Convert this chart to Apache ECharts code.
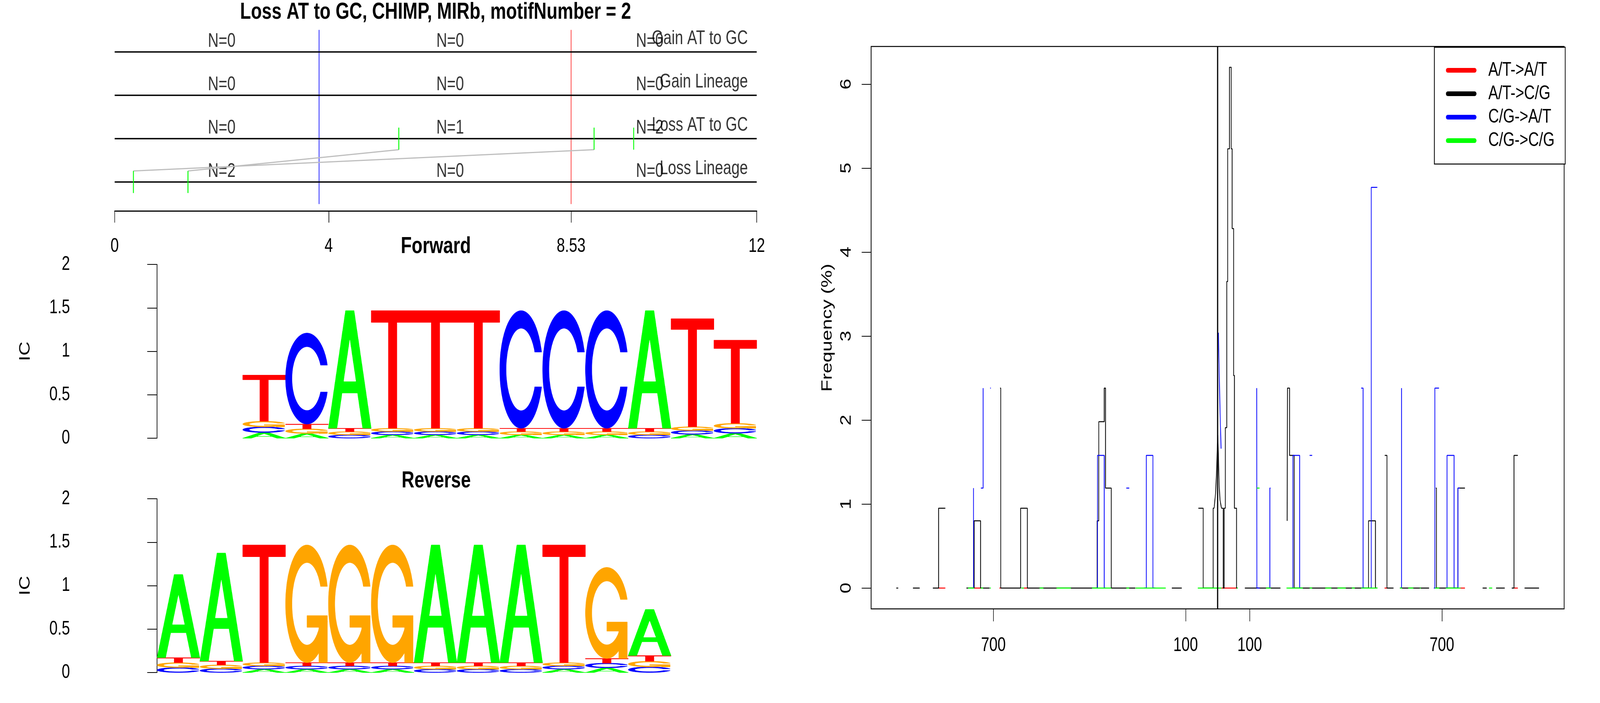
<!DOCTYPE html>
<html>
<head>
<meta charset="utf-8">
<script src="https://cdn.jsdelivr.net/npm/echarts@6/dist/echarts.min.js"></script>
<style>
  html, body { margin: 0; padding: 0; background: #fff; overflow: hidden; }
  #wrap { width: 5400px; height: 1800px; transform-origin: 0 0; }
  #main { width: 5400px; height: 1800px; }
</style>
</head>
<body>
<div id="wrap"><div id="main"></div></div>
<script>
// ---- lineage panel ----
var lineageRows = ['Gain AT to GC', 'Gain Lineage', 'Loss AT to GC', 'Loss Lineage'];
var lineageRowY = [4, 3, 2, 1];
var lineageCounts = [[0, 0, 0], [0, 0, 0], [0, 1, 2], [2, 0, 0]];
var countX = [2, 6.27, 10];
var lineageTicks = [0, 4, 8.53, 12];
var blueLineX = 3.82;
var redLineX = 8.53;
var lossAtToGcSites = [5.31, 8.96, 9.70];
var lossLineageSites = [0.35, 1.37];
var siteLinks = [[0.35, 8.96], [1.37, 5.31]];

// ---- sequence logos (main letter height, height of each minor letter) ----
var forwardLetters = ['T', 'C', 'A', 'T', 'T', 'T', 'C', 'C', 'C', 'A', 'T', 'T'];
var forwardMain = [0.531, 1.048, 1.354, 1.354, 1.354, 1.354, 1.354, 1.354, 1.354, 1.354, 1.243, 0.957];
var forwardMinor = [0.065, 0.054, 0.038, 0.038, 0.038, 0.038, 0.038, 0.038, 0.038, 0.038, 0.044, 0.057];
var reverseLetters = ['A', 'A', 'T', 'G', 'G', 'G', 'A', 'A', 'A', 'T', 'G', 'A'];
var reverseMain = [0.957, 1.243, 1.354, 1.354, 1.354, 1.354, 1.354, 1.354, 1.354, 1.354, 1.048, 0.531];
var reverseMinor = [0.057, 0.044, 0.038, 0.038, 0.038, 0.038, 0.038, 0.038, 0.038, 0.038, 0.054, 0.065];

// ---- frequency panel: step segments [position, frequency %] ----
var atToAt = [
  [[-871, 0], [-850, 0]],
  [[-760, 0], [-740, 0]],
  [[-681, 0], [-677, 0]],
  [[-605, 0], [-594, 0]],
  [[12, 0], [60, 0]],
  [[521, 0], [530, 0]],
  [[758, 0], [772, 0]],
  [[925, 0], [937, 0]]
];
var atToCg = [
  [[-1003, 0], [-997, 0]],
  [[-951, 0], [-930, 0]],
  [[-889, 0], [-871, 0.95], [-850, 0.95]],
  [[-784, 0], [-760, 0.8], [-740, 0], [-712, 0]],
  [[-679, 2.38], [-677, 0], [-615, 0.95], [-594, 0], [-376, 0.8], [-371, 1.98], [-354, 2.38], [-350, 1.19], [-332, 0], [-257, 0]],
  [[-143, 0], [-112, 0]],
  [[-60, 0.95], [-45, 0], [-14, 0.95], [-11, 0.95]],
  [[12, 0.95], [17.5, 0], [20.3, 0.95], [24, 1.91], [28.5, 3.65], [31.4, 5.23], [37, 6.2], [42.5, 5.23], [45.3, 4.28],
   [49.9, 2.53], [52.4, 0.95], [59, 0], [62, 0]],
  [[85, 0], [196, 0]],
  [[217, 0.8], [218, 2.38], [224.5, 1.58], [239, 0], [471, 0.8], [492.6, 0], [498.6, 0]],
  [[521.6, 1.58], [528.5, 0], [549, 0]],
  [[569, 0], [660, 0]],
  [[681, 1.19], [683, 0], [750, 1.19], [772, 1.19]],
  [[827, 0], [840, 0]],
  [[869, 0], [896, 0]],
  [[918, 0], [925, 1.58], [937, 1.58]],
  [[958, 0], [1003, 0]]
];
// fine-resolution stretch right at the centre
var atToCgCentre = [[-11, 0.95], [-6.4, 1.13], [-4.1, 1.32], [-1.8, 1.57], [0.5, 1.82], [2.8, 1.5], [5.1, 1.2], [7.4, 1.05], [12, 0.95]];
var cgToAt = [
  [[-765, 0], [-762, 1.19]],
  [[-739, 1.19], [-732, 2.38]],
  [[-710, 2.38], [-708, 2.38]],
  [[-378, 0], [-375, 1.58], [-354, 0], [-350, 0]],
  [[-285, 1.19], [-276, 1.19]],
  [[-230, 0], [-222.6, 1.58], [-202, 0], [-195, 0]],
  [[122, 2.38], [122.5, 0], [131, 0]],
  [[160, 0], [163, 1.19], [165, 1.19]],
  [[232, 0], [235, 1.58], [256, 0], [262, 0]],
  [[287, 1.58], [295, 1.58]],
  [[448, 2.38], [454, 0], [460, 0]],
  [[475, 0], [479.5, 4.77], [498.4, 4.77]],
  [[571, 0], [574, 2.38]],
  [[675, 0], [678, 2.38], [691, 2.38]],
  [[712, 0], [716, 1.58], [738, 0], [745, 0]],
  [[748, 0], [750, 1.19], [756, 1.19]]
];
var cgToAtCentre = [[2.4, 3.04], [5.5, 2.45], [8.2, 2.0], [10.8, 1.66]];
var cgToCg = [
  [[-779, 0], [-760, 0]],
  [[-739, 0], [-732, 0]],
  [[-711, 0], [-708, 0]],
  [[-613, 0], [-605, 0]],
  [[-556, 0], [-544, 0]],
  [[-503, 0], [-458, 0]],
  [[-392, 0], [-332, 0]],
  [[-285, 0], [-276, 0]],
  [[-256, 0], [-162, 0]],
  [[-62, 0], [12, 0]],
  [[60, 0], [63, 0]],
  [[122.4, 1.19], [130.7, 1.19]],
  [[151, 0], [166, 0]],
  [[215, 0], [266, 0]],
  [[287, 0], [295, 0]],
  [[336, 0], [355, 0]],
  [[374, 0], [400, 0]],
  [[419, 0], [428, 0]],
  [[448, 0], [499, 0]],
  [[569, 0], [576, 0]],
  [[595, 0], [611, 0]],
  [[631, 0], [634, 0]],
  [[678, 0], [692, 0]],
  [[712, 0], [758, 0]],
  [[847, 0], [857, 0]]
];
var freqXTicks = [-700, -100, 100, 700];
var freqYTicks = [0, 1, 2, 3, 4, 5, 6];

// the layout is drawn on a 5400x1800 sheet and fitted to the window
var wrap = document.getElementById('wrap');
wrap.style.transform = 'scale(' + (window.innerWidth / 5400) + ',' + (window.innerHeight / 1800) + ')';

var FONT = '"Liberation Sans", Arial, Helvetica, sans-serif';
var LETTER_COLORS = { A: '#00FF00', C: '#0000FF', G: '#FFA500', T: '#FF0000' };
var BASES = ['A', 'C', 'G', 'T'];

// letter outlines in a unit box (x right, y up), seqLogo style
function roundLetter(withBar) {
  var n = 60, a1 = [], a2 = [], i;
  for (i = 0; i < n; i++) {
    a1.push(0.3 + Math.PI / 2 + (Math.PI / 2 - 0.3) * i / (n - 1));
    a2.push(Math.PI + 0.5 * Math.PI * i / (n - 1));
  }
  var ang = a1.concat(a2);
  var yTop = 0.5 + 0.5 * Math.cos(a1[0]);
  var outer = ang.map(function (a) { return [0.5 + 0.5 * Math.sin(a), 0.5 + 0.5 * Math.cos(a)]; });
  var innerAng = a1.filter(function (a) { return 0.5 + 0.35 * Math.cos(a) <= yTop; }).concat(a2);
  var inner = innerAng.map(function (a) { return [0.5 + 0.35 * Math.sin(a), 0.5 + 0.35 * Math.cos(a)]; });
  inner[0][1] = yTop;
  var pts = outer.slice();
  for (i = outer.length - 1; i >= 0; i--) pts.push([outer[i][0], 1 - outer[i][1]]);
  var inn = inner.slice();
  for (i = inner.length - 1; i >= 0; i--) inn.push([inner[i][0], 1 - inner[i][1]]);
  pts = pts.concat(inn.reverse());
  var parts = [{ pts: pts }];
  if (withBar) {
    var r1 = 0.5 + 0.5 * Math.sin(a1[0]);
    parts.push({ pts: [[r1, 0.4], [0.5, 0.4], [0.5, 0.3], [r1 - 0.2, 0.3], [r1 - 0.2, 0], [r1, 0]] });
  }
  return parts;
}
var LETTER_SHAPES = {
  A: [
    { pts: [[0, 0], [0.4, 1], [0.6, 1], [1, 0], [0.8, 0], [0.68, 0.3], [0.32, 0.3], [0.2, 0]] },
    { pts: [[0.36, 0.4], [0.5, 0.75], [0.64, 0.4]], fill: '#fff' }
  ],
  C: roundLetter(false),
  G: roundLetter(true),
  T: [{ pts: [[0, 1], [1, 1], [1, 0.9], [0.6, 0.9], [0.6, 0], [0.4, 0], [0.4, 0.9], [0, 0.9]] }]
};

function logoData(letters, main, minor, firstCol) {
  var out = [];
  letters.forEach(function (b, i) {
    var y = 0;
    BASES.forEach(function (o) {
      if (o === b) return;
      out.push([firstCol + i, y, y + minor[i], BASES.indexOf(o)]);
      y += minor[i];
    });
    out.push([firstCol + i, y, y + main[i], BASES.indexOf(b)]);
  });
  return out;
}

function renderLetter(params, api) {
  var col = api.value(0), y0 = api.value(1), y1 = api.value(2);
  var base = BASES[api.value(3)];
  var p0 = api.coord([col, y0]);
  var p1 = api.coord([col + 1, y1]);
  var w = p1[0] - p0[0], h = p0[1] - p1[1];
  return {
    type: 'group',
    children: LETTER_SHAPES[base].map(function (part) {
      var c = part.fill || LETTER_COLORS[base];
      return {
        type: 'polygon',
        shape: { points: part.pts.map(function (p) { return [p0[0] + p[0] * w, p0[1] - p[1] * h]; }) },
        style: { fill: c, stroke: c, lineWidth: 1 }
      };
    })
  };
}

function joinSegments(list) {
  var out = [];
  list.forEach(function (seg, i) {
    if (i) out.push(['-', '-']);
    seg.forEach(function (p) { out.push(p); });
  });
  return out;
}

var rowLineData = joinSegments(lineageRowY.map(function (y) { return [[0, y], [12, y]]; }));
var siteData = joinSegments(
  lossAtToGcSites.map(function (x) { return [[x, 2 - 0.255], [x, 2 + 0.255]]; })
    .concat(lossLineageSites.map(function (x) { return [[x, 1 - 0.255], [x, 1 + 0.255]]; }))
);
var linkData = joinSegments(siteLinks.map(function (l) { return [[l[0], 1.255], [l[1], 1.745]]; }));
var countData = [];
lineageCounts.forEach(function (row, r) {
  row.forEach(function (n, c) { countData.push([countX[c], lineageRowY[r] + 0.243, 'N=' + n]); });
});
var rowNameData = lineageRows.map(function (name, r) { return [11.834, lineageRowY[r] + 0.303, name]; });

var textBase = { fontFamily: FONT, fontSize: 50, color: '#000' };
var titleText = { fontFamily: FONT, fontSize: 60, fontWeight: 'bold', color: '#000' };

function logoYAxis(gridIndex) {
  return {
    gridIndex: gridIndex, type: 'value', min: 0, max: 2, interval: 0.5, offset: 230,
    name: 'IC', nameLocation: 'middle', nameGap: 189,
    nameTextStyle: textBase,
    axisLine: { show: true, lineStyle: { color: '#000', width: 2 } },
    axisTick: { show: true, length: 33, lineStyle: { color: '#000', width: 2 } },
    axisLabel: Object.assign({ margin: 64 }, textBase),
    splitLine: { show: false }
  };
}

function stepSeries(name, color, segs) {
  return { name: name, type: 'line', xAxisIndex: 3, yAxisIndex: 3, step: 'end', symbol: 'none', connectNulls: false,
    color: color, lineStyle: { color: color, width: 2.5 }, data: joinSegments(segs) };
}
function plainSeries(xi, yi, color, width, data) {
  return { type: 'line', xAxisIndex: xi, yAxisIndex: yi, symbol: 'none', silent: true, connectNulls: false,
    lineStyle: { color: color, width: width }, data: data };
}

var chart = echarts.init(document.getElementById('main'), null, { renderer: 'canvas' });
chart.setOption({
  animation: false,
  backgroundColor: '#fff',
  title: [
    { text: 'Loss AT to GC, CHIMP, MIRb, motifNumber = 2', left: 1470, top: 1, textAlign: 'center', padding: 0, textStyle: titleText },
    { text: 'Forward', left: 1471, top: 601, textAlign: 'center', padding: 0, textStyle: titleText },
    { text: 'Reverse', left: 1472, top: 1201, textAlign: 'center', padding: 0, textStyle: titleText }
  ],
  legend: {
    data: ['A/T->A/T', 'A/T->C/G', 'C/G->A/T', 'C/G->C/G'],
    orient: 'vertical', left: 4841, top: 121,
    icon: 'path://M6,0 L97,0 A6,6 0 0 1 97,12 L6,12 A6,6 0 0 1 6,0 Z',
    itemWidth: 103, itemHeight: 12, itemGap: 10,
    padding: [34, 36, 35, 39],
    borderColor: '#000', borderWidth: 2.5, backgroundColor: '#fff',
    selectedMode: false,
    textStyle: { fontFamily: FONT, fontSize: 50, color: '#000', lineHeight: 50, padding: [0, 0, 0, 35] }
  },
  grid: [
    { left: 387, top: 76, width: 2167, height: 464 },
    { left: 530, top: 677, width: 2024, height: 445 },
    { left: 530, top: 1277, width: 2024, height: 445 },
    { left: 2940, top: 119, width: 2339, height: 1440, show: true, borderColor: '#000', borderWidth: 2.5, backgroundColor: 'transparent' }
  ],
  xAxis: [
    { gridIndex: 0, type: 'value', min: 0, max: 12,
      axisLine: { show: true, onZero: false, lineStyle: { color: '#000', width: 3 } },
      axisTick: { show: true, length: 30, customValues: lineageTicks, lineStyle: { color: '#000', width: 2 } },
      axisLabel: Object.assign({ margin: 66, customValues: lineageTicks }, textBase),
      splitLine: { show: false } },
    { gridIndex: 1, type: 'value', min: 0, max: 14, show: false },
    { gridIndex: 2, type: 'value', min: 0, max: 14, show: false },
    { gridIndex: 3, type: 'value', min: -1081.6, max: 1081.6,
      axisLine: { show: false, onZero: false },
      axisTick: { show: true, length: 32, customValues: freqXTicks, lineStyle: { color: '#000', width: 2 } },
      axisLabel: Object.assign({ margin: 69, customValues: freqXTicks, formatter: function (v) { return String(Math.abs(v)); } }, textBase),
      splitLine: { show: false } }
  ],
  yAxis: [
    { gridIndex: 0, type: 'value', min: 0.333, max: 4.5135, show: false },
    logoYAxis(1),
    logoYAxis(2),
    { gridIndex: 3, type: 'value', min: -0.248, max: 6.448,
      name: 'Frequency (%)', nameLocation: 'middle', nameGap: 122, nameRotate: 90,
      nameTextStyle: textBase,
      axisLine: { show: false, onZero: false },
      axisTick: { show: true, length: 32, customValues: freqYTicks, lineStyle: { color: '#000', width: 2 } },
      axisLabel: Object.assign({ margin: 58, rotate: 90, customValues: freqYTicks }, textBase),
      splitLine: { show: false } }
  ],
  series: [
    // lineage panel
    plainSeries(0, 0, '#0000FF', 2, [[blueLineX, 0.49], [blueLineX, 4.51]]),
    plainSeries(0, 0, '#FF0000', 2, [[redLineX, 0.49], [redLineX, 4.51]]),
    plainSeries(0, 0, '#000000', 3.5, rowLineData),
    plainSeries(0, 0, '#BEBEBE', 3, linkData),
    plainSeries(0, 0, '#00FF00', 3, siteData),
    { type: 'scatter', xAxisIndex: 0, yAxisIndex: 0, symbolSize: 0, silent: true, data: countData,
      label: Object.assign({ show: true, position: 'inside', align: 'center', verticalAlign: 'middle',
        formatter: function (p) { return p.value[2]; } }, textBase) },
    { type: 'scatter', xAxisIndex: 0, yAxisIndex: 0, symbolSize: 0, silent: true, data: rowNameData,
      label: Object.assign({ show: true, position: 'inside', align: 'right', verticalAlign: 'middle',
        formatter: function (p) { return p.value[2]; } }, textBase) },
    // logos
    { type: 'custom', xAxisIndex: 1, yAxisIndex: 1, silent: true, renderItem: renderLetter,
      encode: { x: 0, y: 1 }, data: logoData(forwardLetters, forwardMain, forwardMinor, 2) },
    { type: 'custom', xAxisIndex: 2, yAxisIndex: 2, silent: true, renderItem: renderLetter,
      encode: { x: 0, y: 1 }, data: logoData(reverseLetters, reverseMain, reverseMinor, 0) },
    // frequency panel
    stepSeries('A/T->A/T', '#FF0000', atToAt),
    stepSeries('A/T->C/G', '#000000', atToCg),
    plainSeries(3, 3, '#000000', 2.5, atToCgCentre),
    stepSeries('C/G->A/T', '#0000FF', cgToAt),
    plainSeries(3, 3, '#0000FF', 2.5, cgToAtCentre),
    stepSeries('C/G->C/G', '#00FF00', cgToCg),
    plainSeries(3, 3, '#000000', 4, [[0, -0.248], [0, 6.448]])
  ]
});
</script>
</body>
</html>
